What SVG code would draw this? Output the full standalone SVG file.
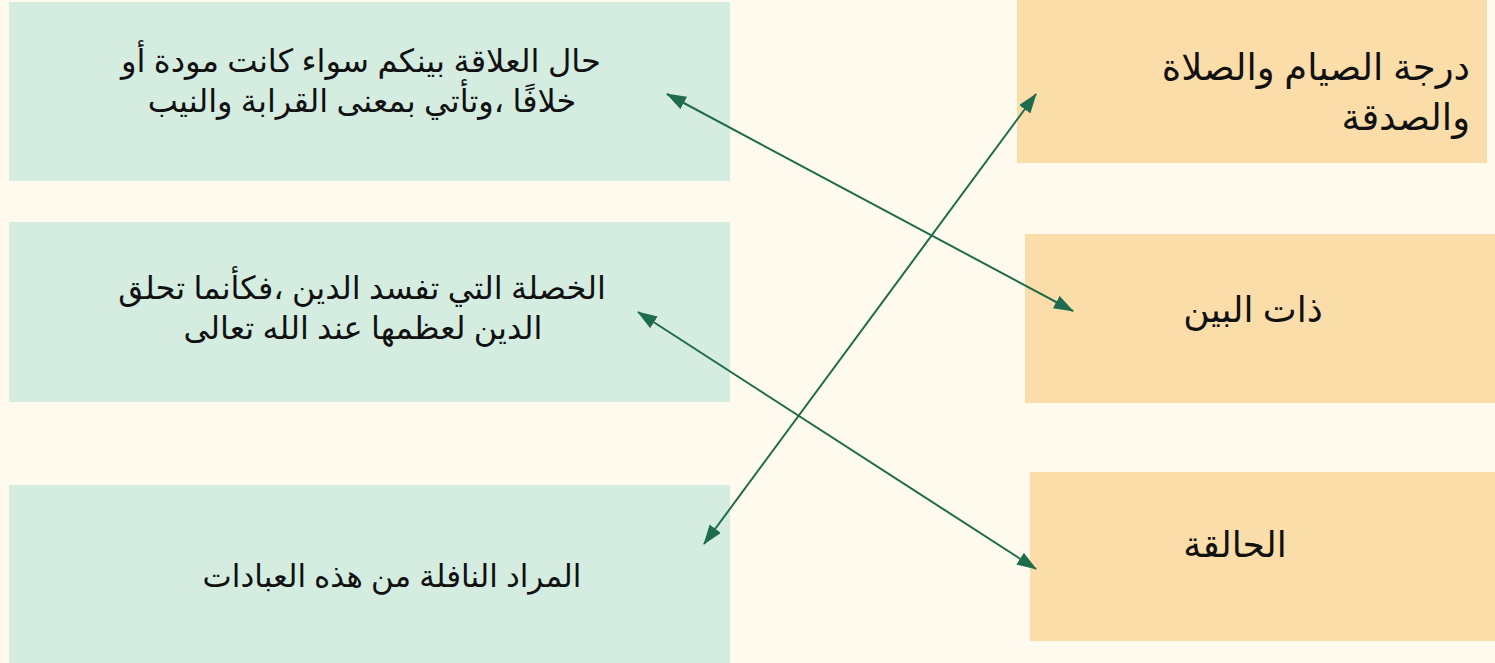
<svg xmlns="http://www.w3.org/2000/svg" width="1495" height="663" viewBox="0 0 1495 663">
<style>
.bg{fill:#FEFAEE}
.l{fill:#D5ECE1}
.r{fill:#FBDDAA}
text{font-family:"Noto Sans","DejaVu Sans",sans-serif;font-size:32px;fill:#111}
.big{font-size:36px}
.c{text-anchor:middle}
.e{text-anchor:end}
.conn line{stroke:#1E6B4E;stroke-width:2}
</style>
<defs>
<marker id="ah" viewBox="0 0 20 14" refX="19" refY="7" markerWidth="20" markerHeight="14" markerUnits="userSpaceOnUse" orient="auto-start-reverse">
<path d="M0,0 L20,7 L0,14 Z" fill="#1E6B4E"/>
</marker>
</defs>
<rect class="bg" x="0" y="0" width="1495" height="663"/>
<g id="n1"><rect class="l" x="9" y="2" width="721" height="179"/>
<text class="c" x="361" y="72" textLength="480" lengthAdjust="spacingAndGlyphs">حال العلاقة بينكم سواء كانت مودة أو</text>
<text class="c" x="362" y="112">خلافًا ،وتأتي بمعنى القرابة والنيب</text></g>
<g id="n2"><rect class="l" x="9" y="222" width="721" height="180"/>
<text class="c" x="362" y="299">الخصلة التي تفسد الدين ،فكأنما تحلق</text>
<text class="c" x="363" y="339">الدين لعظمها عند الله تعالى</text></g>
<g id="n3"><rect class="l" x="9" y="485" width="721" height="178"/>
<text class="c" x="392" y="587" style="font-size:31px">المراد النافلة من هذه العبادات</text></g>
<g id="n4"><rect class="r" x="1017" y="0" width="470" height="163"/>
<text class="e big" x="1470" y="80" style="font-size:37px">درجة الصيام والصلاة</text>
<text class="e big" x="1470" y="130" style="font-size:37px">والصدقة</text></g>
<g id="n5"><rect class="r" x="1025" y="234" width="470" height="169"/>
<text class="c big" x="1253" y="322">ذات البين</text></g>
<g id="n6"><rect class="r" x="1030" y="472" width="465" height="169"/>
<text class="c big" x="1235" y="557">الحالقة</text></g>
<g class="conn" id="connectors">
<line x1="667" y1="94" x2="1073" y2="311" marker-start="url(#ah)" marker-end="url(#ah)"/>
<line x1="1036" y1="94" x2="704" y2="544" marker-start="url(#ah)" marker-end="url(#ah)"/>
<line x1="638" y1="312" x2="1036" y2="569" marker-start="url(#ah)" marker-end="url(#ah)"/>
</g>
</svg>
